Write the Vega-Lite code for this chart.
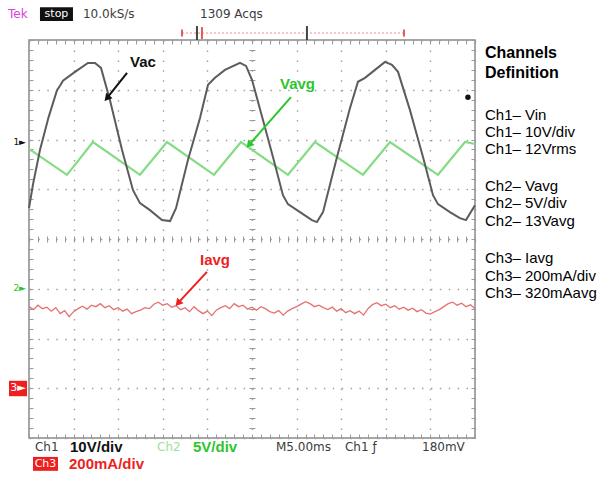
{
  "$schema": "https://vega.github.io/schema/vega-lite/v6.json",
  "width": 446,
  "height": 398,
  "autosize": {"type": "none"},
  "padding": {"left": 29, "top": 40, "right": 130, "bottom": 43},
  "background": "white",
  "config": {"view": {"stroke": "#8a8a8a", "strokeWidth": 1.5}, "font": "Liberation Sans"},
  "resolve": {"axis": {"x": "independent", "y": "independent"}},
  "datasets": {
    "vac": [
      {"t": 0, "v": 0.62}, {"t": 0.45, "v": 1.1}, {"t": 1.23, "v": 1.79}, {"t": 2.2, "v": 2.45}, {"t": 3.14, "v": 2.99}, {"t": 3.48, "v": 3.08},
      {"t": 3.81, "v": 3.18}, {"t": 5.16, "v": 3.36}, {"t": 6.61, "v": 3.54}, {"t": 7.4, "v": 3.54}, {"t": 8.07, "v": 3.44},
      {"t": 9.08, "v": 2.79}, {"t": 10.43, "v": 1.79}, {"t": 11.66, "v": 0.98}, {"t": 12.44, "v": 0.72}, {"t": 13.56, "v": 0.58},
      {"t": 14.91, "v": 0.38}, {"t": 15.81, "v": 0.36}, {"t": 16.48, "v": 0.62}, {"t": 17.82, "v": 1.59}, {"t": 19.17, "v": 2.43},
      {"t": 20.07, "v": 3.1}, {"t": 20.85, "v": 3.24}, {"t": 21.97, "v": 3.4}, {"t": 23.65, "v": 3.54}, {"t": 24.33, "v": 3.48},
      {"t": 25.0, "v": 3.2}, {"t": 26.23, "v": 2.39}, {"t": 27.35, "v": 1.65}, {"t": 28.47, "v": 0.88}, {"t": 29.03, "v": 0.7},
      {"t": 30.38, "v": 0.54}, {"t": 31.72, "v": 0.38}, {"t": 32.28, "v": 0.34}, {"t": 32.96, "v": 0.54}, {"t": 34.53, "v": 1.65},
      {"t": 35.98, "v": 2.63}, {"t": 36.88, "v": 3.16}, {"t": 37.67, "v": 3.24}, {"t": 38.79, "v": 3.4}, {"t": 39.91, "v": 3.56},
      {"t": 40.69, "v": 3.5}, {"t": 41.37, "v": 3.36}, {"t": 42.71, "v": 2.59}, {"t": 44.17, "v": 1.65}, {"t": 45.29, "v": 0.88},
      {"t": 45.85, "v": 0.7}, {"t": 47.19, "v": 0.54}, {"t": 48.31, "v": 0.42}, {"t": 48.99, "v": 0.38}, {"t": 50.0, "v": 0.68}
    ],
    "vavg": [
      {"t": 0, "v": 1.81}, {"t": 4.26, "v": 1.29}, {"t": 7.17, "v": 1.95}, {"t": 12.44, "v": 1.29}, {"t": 15.47, "v": 1.95},
      {"t": 20.74, "v": 1.29}, {"t": 23.77, "v": 1.95}, {"t": 29.03, "v": 1.29}, {"t": 32.06, "v": 1.95}, {"t": 37.44, "v": 1.29},
      {"t": 40.47, "v": 1.95}, {"t": 45.85, "v": 1.29}, {"t": 48.88, "v": 1.95}, {"t": 50, "v": 1.91}
    ],
    "iavg": [
      {"t": 0.0, "v": -1.36}, {"t": 0.5, "v": -1.42}, {"t": 1.0, "v": -1.33}, {"t": 1.5, "v": -1.4}, {"t": 2.0, "v": -1.37},
      {"t": 2.5, "v": -1.45}, {"t": 3.0, "v": -1.38}, {"t": 3.5, "v": -1.5}, {"t": 4.0, "v": -1.44}, {"t": 4.5, "v": -1.56},
      {"t": 5.0, "v": -1.46}, {"t": 5.5, "v": -1.4}, {"t": 6.0, "v": -1.35}, {"t": 6.5, "v": -1.41}, {"t": 7.0, "v": -1.33},
      {"t": 7.5, "v": -1.36}, {"t": 8.0, "v": -1.3}, {"t": 8.5, "v": -1.38}, {"t": 9.0, "v": -1.34}, {"t": 9.5, "v": -1.42},
      {"t": 10.0, "v": -1.38}, {"t": 10.5, "v": -1.45}, {"t": 11.0, "v": -1.41}, {"t": 11.5, "v": -1.5}, {"t": 12.0, "v": -1.46},
      {"t": 12.5, "v": -1.43}, {"t": 13.0, "v": -1.38}, {"t": 13.5, "v": -1.4}, {"t": 14.0, "v": -1.31}, {"t": 14.5, "v": -1.27},
      {"t": 15.0, "v": -1.33}, {"t": 15.5, "v": -1.3}, {"t": 16.0, "v": -1.37}, {"t": 16.5, "v": -1.34}, {"t": 17.0, "v": -1.42},
      {"t": 17.5, "v": -1.38}, {"t": 18.0, "v": -1.46}, {"t": 18.5, "v": -1.36}, {"t": 19.0, "v": -1.44}, {"t": 19.5, "v": -1.5},
      {"t": 20.0, "v": -1.45}, {"t": 20.5, "v": -1.54}, {"t": 21.0, "v": -1.43}, {"t": 21.5, "v": -1.38}, {"t": 22.0, "v": -1.34},
      {"t": 22.5, "v": -1.4}, {"t": 23.0, "v": -1.3}, {"t": 23.5, "v": -1.36}, {"t": 24.0, "v": -1.33}, {"t": 24.5, "v": -1.41},
      {"t": 25.0, "v": -1.37}, {"t": 25.5, "v": -1.43}, {"t": 26.0, "v": -1.36}, {"t": 26.5, "v": -1.4}, {"t": 27.0, "v": -1.46},
      {"t": 27.5, "v": -1.49}, {"t": 28.0, "v": -1.44}, {"t": 28.5, "v": -1.53}, {"t": 29.0, "v": -1.45}, {"t": 29.5, "v": -1.4},
      {"t": 30.0, "v": -1.36}, {"t": 30.5, "v": -1.31}, {"t": 31.0, "v": -1.26}, {"t": 31.5, "v": -1.3}, {"t": 32.0, "v": -1.36},
      {"t": 32.5, "v": -1.33}, {"t": 33.0, "v": -1.38}, {"t": 33.5, "v": -1.42}, {"t": 34.0, "v": -1.37}, {"t": 34.5, "v": -1.45},
      {"t": 35.0, "v": -1.4}, {"t": 35.5, "v": -1.48}, {"t": 36.0, "v": -1.44}, {"t": 36.5, "v": -1.5}, {"t": 37.0, "v": -1.45},
      {"t": 37.5, "v": -1.53}, {"t": 38.0, "v": -1.4}, {"t": 38.5, "v": -1.32}, {"t": 39.0, "v": -1.28}, {"t": 39.5, "v": -1.34},
      {"t": 40.0, "v": -1.31}, {"t": 40.5, "v": -1.38}, {"t": 41.0, "v": -1.34}, {"t": 41.5, "v": -1.41}, {"t": 42.0, "v": -1.37},
      {"t": 42.5, "v": -1.43}, {"t": 43.0, "v": -1.39}, {"t": 43.5, "v": -1.46}, {"t": 44.0, "v": -1.42}, {"t": 44.5, "v": -1.49},
      {"t": 45.0, "v": -1.51}, {"t": 45.5, "v": -1.46}, {"t": 46.0, "v": -1.42}, {"t": 46.5, "v": -1.36}, {"t": 47.0, "v": -1.3},
      {"t": 47.5, "v": -1.27}, {"t": 48.0, "v": -1.33}, {"t": 48.5, "v": -1.29}, {"t": 49.0, "v": -1.36}, {"t": 49.5, "v": -1.32},
      {"t": 50.0, "v": -1.4}
    ],
    "boldlabels": [
      {"t": 11.32, "v": 3.56, "label": "Vac", "ch": "Ch1"},
      {"t": 28.14, "v": 3.12, "label": "Vavg", "ch": "Ch2"},
      {"t": 19.17, "v": -0.42, "label": "Iavg", "ch": "Ch3"},
      {"t": 4.6, "v": -4.18, "label": "10V/div", "ch": "Ch1"},
      {"t": 18.38, "v": -4.18, "label": "5V/div", "ch": "Ch2"},
      {"t": 4.48, "v": -4.52, "label": "200mA/div", "ch": "Ch3"}
    ],
    "arrows": [
      {"t": 10.99, "v": 3.34, "t2": 8.74, "v2": 2.83, "ch": "Ch1"},
      {"t": 29.37, "v": 2.85, "t2": 24.66, "v2": 1.89, "ch": "Ch2"},
      {"t": 19.95, "v": -0.66, "t2": 16.7, "v2": -1.29, "ch": "Ch3"}
    ],
    "boxes": [
      {"t": 1.23, "t2": 4.93, "v": 4.66, "v2": 4.38, "tc": 3.08, "vc": 4.52, "label": "stop", "ch": "Ch1"},
      {"t": 0.45, "t2": 3.25, "v": -4.38, "v2": -4.66, "tc": 1.85, "vc": -4.52, "label": "Ch3", "ch": "Ch3"},
      {"t": -2.24, "t2": -0.22, "v": -2.85, "v2": -3.16, "tc": -1.23, "vc": -3.0, "label": "3►", "ch": "Ch3"}
    ],
    "markers": [
      {"t": -1.75, "v": 1.95, "label": "1►", "ch": "Ch1"},
      {"t": -1.75, "v": -0.98, "label": "2►", "ch": "Ch2"}
    ],
    "scopetext": [
      {"t": 6.05, "v": 4.52, "label": "10.0kS/s"},
      {"t": 19.17, "v": 4.52, "label": "1309 Acqs"},
      {"t": 0.67, "v": -4.18, "label": "Ch1"},
      {"t": 27.69, "v": -4.18, "label": "M5.00ms"},
      {"t": 35.42, "v": -4.18, "label": "Ch1 ƒ"},
      {"t": 44.06, "v": -4.18, "label": "180mV"}
    ],
    "tek": [{"t": -2.35, "v": 4.52, "label": "Tek"}],
    "ch2": [{"t": 14.35, "v": -4.18, "label": "Ch2"}],
    "trigbar": [{"t": 17.15, "t2": 42.04, "v": 4.14}],
    "trigticks": [
      {"t": 17.15, "v": 4.07, "v2": 4.21, "ch": "red"},
      {"t": 42.04, "v": 4.07, "v2": 4.21, "ch": "red"},
      {"t": 19.39, "v": 4.02, "v2": 4.26, "ch": "red"},
      {"t": 18.83, "v": 4.0, "v2": 4.28, "ch": "black"},
      {"t": 31.16, "v": 4.0, "v2": 4.28, "ch": "black"}
    ],
    "dot": [{"t": 49.21, "v": 2.85}],
    "headings": [
      {"t": 51.12, "v": 3.74, "label": "Channels"},
      {"t": 51.12, "v": 3.34, "label": "Definition"}
    ],
    "panel": [
      {"t": 51.12, "v": 2.49, "label": "Ch1– Vin"},
      {"t": 51.12, "v": 2.15, "label": "Ch1– 10V/div"},
      {"t": 51.12, "v": 1.81, "label": "Ch1– 12Vrms"},
      {"t": 51.12, "v": 1.07, "label": "Ch2– Vavg"},
      {"t": 51.12, "v": 0.72, "label": "Ch2– 5V/div"},
      {"t": 51.12, "v": 0.36, "label": "Ch2– 13Vavg"},
      {"t": 51.12, "v": -0.38, "label": "Ch3– Iavg"},
      {"t": 51.12, "v": -0.74, "label": "Ch3– 200mA/div"},
      {"t": 51.12, "v": -1.09, "label": "Ch3– 320mAavg"}
    ]
  },
  "layer": [
    {
      "data": {"name": "iavg"},
      "mark": {"type": "line", "color": "#e57272", "strokeWidth": 1.3},
      "encoding": {
        "x": {"field": "t", "type": "quantitative", "scale": {"domain": [0, 50], "nice": false, "zero": false},
          "axis": {"orient": "bottom", "offset": -4, "values": [0,1,2,3,4,5,6,7,8,9,10,11,12,13,14,15,16,17,18,19,20,21,22,23,24,25,26,27,28,29,30,31,32,33,34,35,36,37,38,39,40,41,42,43,44,45,46,47,48,49,50],
            "tickSize": 4, "tickColor": "#9a9a9a", "labels": false, "domain": false, "grid": false, "title": null}},
        "y": {"field": "v", "type": "quantitative", "scale": {"domain": [-4, 4], "nice": false, "zero": false},
          "axis": {"orient": "left", "offset": -4, "values": [-4,-3.8,-3.6,-3.4,-3.2,-3,-2.8,-2.6,-2.4,-2.2,-2,-1.8,-1.6,-1.4,-1.2,-1,-0.8,-0.6,-0.4,-0.2,0,0.2,0.4,0.6,0.8,1,1.2,1.4,1.6,1.8,2,2.2,2.4,2.6,2.8,3,3.2,3.4,3.6,3.8,4],
            "tickSize": 4, "tickColor": "#9a9a9a", "labels": false, "domain": false, "grid": false, "title": null}}
      }
    },
    {
      "data": {"name": "vavg"},
      "mark": {"type": "line", "color": "#84dc84", "strokeWidth": 2.2},
      "encoding": {
        "x": {"field": "t", "type": "quantitative", "scale": {"domain": [0, 50], "nice": false, "zero": false},
          "axis": {"orient": "bottom", "offset": -202, "values": [0,1,2,3,4,5,6,7,8,9,10,11,12,13,14,15,16,17,18,19,20,21,22,23,24,25,26,27,28,29,30,31,32,33,34,35,36,37,38,39,40,41,42,43,44,45,46,47,48,49,50],
            "tickSize": 6, "tickColor": "#9a9a9a", "labels": false, "domain": false, "grid": false, "title": null}},
        "y": {"field": "v", "type": "quantitative", "scale": {"domain": [-4, 4], "nice": false, "zero": false},
          "axis": {"orient": "left", "offset": -226, "values": [-4,-3.8,-3.6,-3.4,-3.2,-3,-2.8,-2.6,-2.4,-2.2,-2,-1.8,-1.6,-1.4,-1.2,-1,-0.8,-0.6,-0.4,-0.2,0,0.2,0.4,0.6,0.8,1,1.2,1.4,1.6,1.8,2,2.2,2.4,2.6,2.8,3,3.2,3.4,3.6,3.8,4],
            "tickSize": 6, "tickColor": "#9a9a9a", "labels": false, "domain": false, "grid": false, "title": null}}
      }
    },
    {
      "data": {"name": "vac"},
      "mark": {"type": "line", "color": "#5c5c5c", "strokeWidth": 2},
      "encoding": {
        "x": {"field": "t", "type": "quantitative", "scale": {"domain": [0, 50], "nice": false, "zero": false},
          "axis": {"orient": "bottom", "values": [0,5,10,15,20,25,30,35,40,45,50], "ticks": false, "labels": false, "domain": false,
            "grid": true, "gridColor": "#a0a0a0", "gridDash": [1.5, 8.45], "gridWidth": 1.4, "title": null}},
        "y": {"field": "v", "type": "quantitative", "scale": {"domain": [-4, 4], "nice": false, "zero": false},
          "axis": {"orient": "left", "values": [-4,-3,-2,-1,0,1,2,3,4], "ticks": false, "labels": false, "domain": false,
            "grid": true, "gridColor": "#a0a0a0", "gridDash": [1.5, 7.42], "gridWidth": 1.4, "title": null}}
      }
    },
    {
      "data": {"name": "headings"},
      "mark": {"type": "text", "align": "left", "baseline": "middle", "fontSize": 16, "fontWeight": "bold", "color": "#000000"},
      "encoding": {
        "x": {"field": "t", "type": "quantitative", "scale": {"domain": [0, 50], "nice": false, "zero": false},
          "axis": {"orient": "top", "offset": -4, "values": [0,1,2,3,4,5,6,7,8,9,10,11,12,13,14,15,16,17,18,19,20,21,22,23,24,25,26,27,28,29,30,31,32,33,34,35,36,37,38,39,40,41,42,43,44,45,46,47,48,49,50],
            "tickSize": 4, "tickColor": "#9a9a9a", "labels": false, "domain": false, "grid": false, "title": null}},
        "y": {"field": "v", "type": "quantitative", "scale": {"domain": [-4, 4], "nice": false, "zero": false},
          "axis": {"orient": "right", "offset": -4, "values": [-4,-3.8,-3.6,-3.4,-3.2,-3,-2.8,-2.6,-2.4,-2.2,-2,-1.8,-1.6,-1.4,-1.2,-1,-0.8,-0.6,-0.4,-0.2,0,0.2,0.4,0.6,0.8,1,1.2,1.4,1.6,1.8,2,2.2,2.4,2.6,2.8,3,3.2,3.4,3.6,3.8,4],
            "tickSize": 4, "tickColor": "#9a9a9a", "labels": false, "domain": false, "grid": false, "title": null}},
        "text": {"field": "label"}
      }
    },
    {
      "data": {"name": "panel"},
      "mark": {"type": "text", "align": "left", "baseline": "middle", "fontSize": 15, "color": "#000000"},
      "encoding": {
        "x": {"field": "t", "type": "quantitative", "axis": null},
        "y": {"field": "v", "type": "quantitative", "axis": null},
        "text": {"field": "label"}
      }
    },
    {
      "data": {"name": "trigbar"},
      "mark": {"type": "rule", "color": "#ee8c8c", "strokeDash": [2, 2], "strokeWidth": 1},
      "encoding": {
        "x": {"field": "t", "type": "quantitative", "axis": null},
        "x2": {"field": "t2"},
        "y": {"field": "v", "type": "quantitative", "axis": null}
      }
    },
    {
      "data": {"name": "trigticks"},
      "mark": {"type": "rule", "strokeWidth": 2},
      "encoding": {
        "x": {"field": "t", "type": "quantitative", "axis": null},
        "y": {"field": "v", "type": "quantitative", "axis": null},
        "y2": {"field": "v2"},
        "stroke": {"field": "ch", "type": "nominal", "legend": null, "scale": {"domain": ["red", "black"], "range": ["#e25a5a", "#444444"]}}
      }
    },
    {
      "data": {"name": "dot"},
      "mark": {"type": "point", "filled": true, "color": "#111111", "size": 30, "opacity": 1},
      "encoding": {
        "x": {"field": "t", "type": "quantitative", "axis": null},
        "y": {"field": "v", "type": "quantitative", "axis": null}
      }
    },
    {
      "data": {"name": "boxes"},
      "mark": {"type": "rect"},
      "encoding": {
        "x": {"field": "t", "type": "quantitative", "axis": null},
        "x2": {"field": "t2"},
        "y": {"field": "v", "type": "quantitative", "axis": null},
        "y2": {"field": "v2"},
        "color": {"field": "ch", "type": "nominal", "legend": null, "scale": {"domain": ["Ch1", "Ch2", "Ch3"], "range": ["#111111", "#2ec52e", "#ee1f1f"]}}
      }
    },
    {
      "data": {"name": "boxes"},
      "mark": {"type": "text", "align": "center", "baseline": "middle", "fontSize": 11, "font": "DejaVu Sans", "color": "#ffffff"},
      "encoding": {
        "x": {"field": "tc", "type": "quantitative", "axis": null},
        "y": {"field": "vc", "type": "quantitative", "axis": null},
        "text": {"field": "label"}
      }
    },
    {
      "data": {"name": "markers"},
      "mark": {"type": "text", "align": "left", "baseline": "middle", "fontSize": 9, "font": "DejaVu Sans"},
      "encoding": {
        "x": {"field": "t", "type": "quantitative", "axis": null},
        "y": {"field": "v", "type": "quantitative", "axis": null},
        "text": {"field": "label"},
        "color": {"field": "ch", "type": "nominal", "legend": null}
      }
    },
    {
      "data": {"name": "scopetext"},
      "mark": {"type": "text", "align": "left", "baseline": "middle", "fontSize": 12, "font": "DejaVu Sans", "color": "#3c3c3c"},
      "encoding": {
        "x": {"field": "t", "type": "quantitative", "axis": null},
        "y": {"field": "v", "type": "quantitative", "axis": null},
        "text": {"field": "label"}
      }
    },
    {
      "data": {"name": "tek"},
      "mark": {"type": "text", "align": "left", "baseline": "middle", "fontSize": 12, "font": "DejaVu Sans", "color": "#e03ce0"},
      "encoding": {
        "x": {"field": "t", "type": "quantitative", "axis": null},
        "y": {"field": "v", "type": "quantitative", "axis": null},
        "text": {"field": "label"}
      }
    },
    {
      "data": {"name": "ch2"},
      "mark": {"type": "text", "align": "left", "baseline": "middle", "fontSize": 12, "font": "DejaVu Sans", "color": "#9ee09e"},
      "encoding": {
        "x": {"field": "t", "type": "quantitative", "axis": null},
        "y": {"field": "v", "type": "quantitative", "axis": null},
        "text": {"field": "label"}
      }
    },
    {
      "data": {"name": "arrows"},
      "mark": {"type": "rule", "strokeWidth": 2},
      "encoding": {
        "x": {"field": "t", "type": "quantitative", "axis": null},
        "y": {"field": "v", "type": "quantitative", "axis": null},
        "x2": {"field": "t2"},
        "y2": {"field": "v2"},
        "color": {"field": "ch", "type": "nominal", "legend": null}
      }
    },
    {
      "data": {"name": "arrows"},
      "mark": {"type": "point", "shape": "triangle-up", "filled": true, "size": 70, "angle": 221, "opacity": 1},
      "encoding": {
        "x": {"field": "t2", "type": "quantitative", "axis": null},
        "y": {"field": "v2", "type": "quantitative", "axis": null},
        "color": {"field": "ch", "type": "nominal", "legend": null}
      }
    },
    {
      "data": {"name": "boldlabels"},
      "mark": {"type": "text", "align": "left", "baseline": "middle", "fontSize": 15, "fontWeight": "bold"},
      "encoding": {
        "x": {"field": "t", "type": "quantitative", "axis": null},
        "y": {"field": "v", "type": "quantitative", "axis": null},
        "text": {"field": "label"},
        "color": {"field": "ch", "type": "nominal", "legend": null}
      }
    }
  ]
}
